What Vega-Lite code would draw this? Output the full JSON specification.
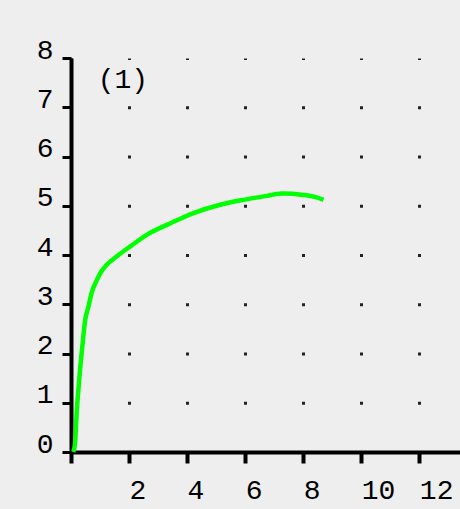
{
  "$schema": "https://vega.github.io/schema/vega-lite/v6.json",
  "width": 389,
  "height": 394,
  "autosize": {"type": "none"},
  "padding": {"left": 71, "top": 58, "right": 0, "bottom": 57},
  "background": "#eeeeee",
  "config": {
    "view": {"stroke": null},
    "font": "Liberation Mono"
  },
  "datasets": {
    "curve": [
      {"x": 0.08, "y": 0.0},
      {"x": 0.14, "y": 0.18},
      {"x": 0.2, "y": 0.85},
      {"x": 0.26, "y": 1.3},
      {"x": 0.31, "y": 1.66},
      {"x": 0.4, "y": 2.2},
      {"x": 0.48, "y": 2.65},
      {"x": 0.6, "y": 2.95},
      {"x": 0.71, "y": 3.23},
      {"x": 0.89, "y": 3.49},
      {"x": 1.05, "y": 3.67},
      {"x": 1.23, "y": 3.8},
      {"x": 1.57, "y": 3.97},
      {"x": 2.03, "y": 4.17},
      {"x": 2.61, "y": 4.41},
      {"x": 3.41, "y": 4.64},
      {"x": 4.22, "y": 4.85},
      {"x": 5.14, "y": 5.02},
      {"x": 5.94, "y": 5.12},
      {"x": 6.75, "y": 5.2},
      {"x": 7.26, "y": 5.25},
      {"x": 8.01, "y": 5.22},
      {"x": 8.4, "y": 5.18},
      {"x": 8.7, "y": 5.12}
    ],
    "note": [{"x": 1.79, "y": 7.55, "label": "(1)"}]
  },
  "layer": [
    {
      "data": {"name": "curve"},
      "mark": {"type": "line", "color": "#00ff00", "strokeWidth": 4.5, "clip": false, "interpolate": "monotone"},
      "encoding": {
        "x": {
          "field": "x", "type": "quantitative",
          "scale": {"domain": [0, 13.4], "nice": false, "zero": false},
          "axis": {
            "title": null,
            "values": [0, 2, 4, 6, 8, 10, 12],
            "labelExpr": "datum.value == 0 ? '' : datum.label",
            "domainColor": "#000000", "domainWidth": 4,
            "tickColor": "#000000", "tickWidth": 4, "tickSize": 11,
            "labelFontSize": 28, "labelColor": "#000000", "labelFont": "Liberation Mono",
            "labelAlign": "left", "labelDx": 3, "labelBaseline": "top", "labelPadding": 13,
            "labelFlush": false, "labelOverlap": false,
            "grid": true, "gridColor": "#222222", "gridWidth": 3,
            "gridDash": [3, 46.25], "gridDashOffset": 1.5
          }
        },
        "y": {
          "field": "y", "type": "quantitative",
          "scale": {"domain": [0, 8], "nice": false},
          "axis": {
            "title": null,
            "values": [0, 1, 2, 3, 4, 5, 6, 7, 8],
            "domainColor": "#000000", "domainWidth": 4,
            "tickColor": "#000000", "tickWidth": 3, "tickSize": 9,
            "labelFontSize": 28, "labelColor": "#000000", "labelFont": "Liberation Mono",
            "labelPadding": 9, "labelBaseline": "alphabetic",
            "labelFlush": false, "labelOverlap": false,
            "grid": false
          }
        }
      }
    },
    {
      "data": {"name": "note"},
      "mark": {"type": "text", "fontSize": 28, "font": "Liberation Mono", "color": "#000000", "baseline": "middle", "align": "center"},
      "encoding": {
        "x": {"field": "x", "type": "quantitative"},
        "y": {"field": "y", "type": "quantitative"},
        "text": {"field": "label"}
      }
    }
  ]
}
